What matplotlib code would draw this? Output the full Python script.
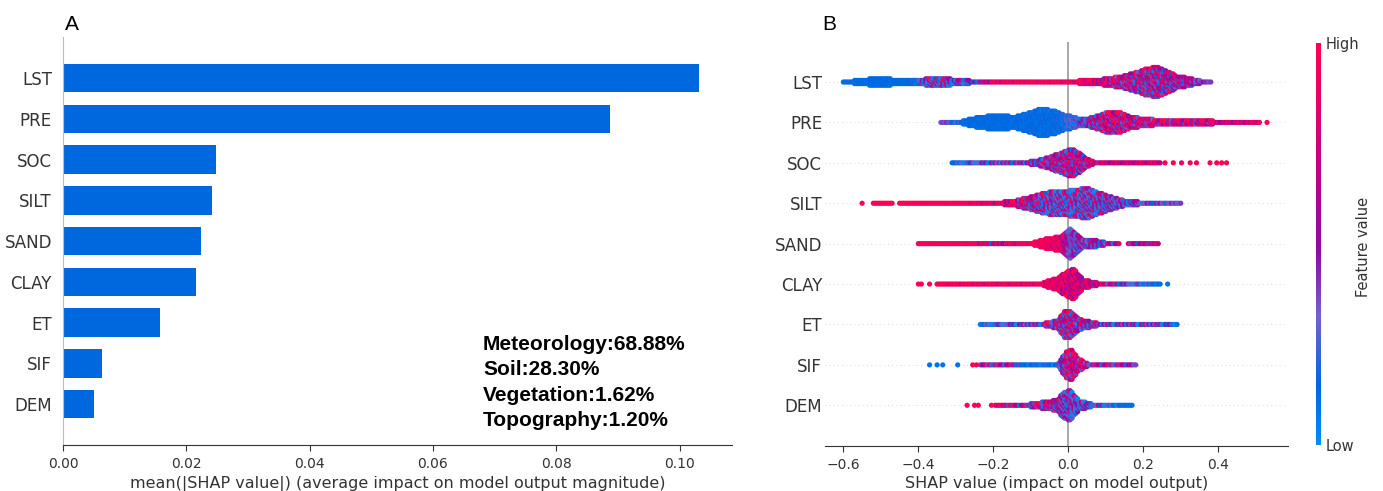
import numpy as np
import matplotlib
matplotlib.use("Agg")
import matplotlib.pyplot as plt
from matplotlib.colors import LinearSegmentedColormap
from matplotlib.cm import ScalarMappable

# ======== data ========
features = ["LST", "PRE", "SOC", "SILT", "SAND", "CLAY", "ET", "SIF", "DEM"]
mean_abs_shap = [0.1032, 0.0887, 0.0248, 0.0241, 0.0224, 0.0215, 0.0157, 0.0064, 0.0051]
group_text = ["Meteorology:68.88%", "Soil:28.30%", "Vegetation:1.62%", "Topography:1.20%"]

# beeswarm envelopes: (shap value, half height of swarm in rows, mean feature value, spread of feature value)
# half height < 0 marks a gap with no points
lst_shape = [(-0.600, 0.00, 0.13, 0.0), (-0.580, 0.09, 0.13, 0.0), (-0.530, 0.14, 0.13, 0.02),
             (-0.480, 0.15, 0.13, 0.02), (-0.430, 0.10, 0.13, 0.02), (-0.400, 0.10, 0.15, 0.1),
             (-0.370, 0.17, 0.35, 0.6), (-0.340, 0.18, 0.35, 0.6), (-0.300, 0.12, 0.25, 0.5),
             (-0.260, 0.10, 0.20, 0.4), (-0.200, 0.09, 0.85, 0.2), (-0.100, 0.09, 0.95, 0.1),
             (0.000, 0.09, 0.92, 0.15), (0.080, 0.12, 0.75, 0.3), (0.140, 0.20, 0.60, 0.4),
             (0.180, 0.30, 0.50, 0.5), (0.210, 0.40, 0.50, 0.5), (0.235, 0.44, 0.50, 0.5),
             (0.260, 0.35, 0.50, 0.45), (0.290, 0.22, 0.50, 0.4), (0.330, 0.15, 0.50, 0.3),
             (0.370, 0.07, 0.40, 0.1), (0.380, 0.00, 0.40, 0.0)]
lst_dots = []

pre_shape = [(-0.340, 0.00, 0.40, 0.1), (-0.300, 0.06, 0.20, 0.2), (-0.280, 0.11, 0.13, 0.02),
             (-0.240, 0.20, 0.13, 0.02), (-0.190, 0.24, 0.13, 0.02), (-0.140, 0.21, 0.13, 0.02),
             (-0.100, 0.32, 0.13, 0.05), (-0.070, 0.42, 0.13, 0.05), (-0.040, 0.36, 0.13, 0.05),
             (-0.010, 0.26, 0.15, 0.1), (0.040, 0.14, 0.30, 0.3), (0.080, 0.24, 0.55, 0.5),
             (0.110, 0.34, 0.65, 0.5), (0.140, 0.32, 0.65, 0.5), (0.170, 0.20, 0.60, 0.45),
             (0.250, 0.12, 0.65, 0.4), (0.390, 0.10, 0.70, 0.35), (0.480, 0.07, 0.80, 0.2),
             (0.510, 0.00, 0.90, 0.1)]
pre_dots = [(0.530, 1.0)]

soc_shape = [(-0.310, 0.00, 0.12, 0.0), (-0.280, 0.00, 0.20, 0.3), (-0.150, 0.03, 0.40, 0.5),
             (-0.070, 0.15, 0.45, 0.45), (-0.030, 0.28, 0.55, 0.45), (0.000, 0.38, 0.55, 0.45),
             (0.015, 0.40, 0.55, 0.45), (0.050, 0.18, 0.60, 0.4), (0.080, 0.05, 0.70, 0.3),
             (0.245, 0.00, 0.80, 0.2)]
soc_dots = [(0.258, 1.0), (0.280, 1.0), (0.302, 0.9), (0.325, 1.0), (0.342, 1.0),
            (0.378, 1.0), (0.396, 1.0), (0.409, 1.0), (0.422, 1.0)]

silt_shape = [(-0.520, 0.00, 1.0, 0.0), (-0.465, 0.00, 1.0, 0.0), (-0.462, -1, 1.0, 0.0),
              (-0.452, -1, 1.0, 0.0), (-0.450, 0.00, 1.0, 0.0), (-0.280, 0.05, 0.97, 0.05),
              (-0.200, 0.07, 0.85, 0.3), (-0.140, 0.13, 0.75, 0.4), (-0.080, 0.28, 0.40, 0.6),
              (-0.040, 0.36, 0.30, 0.6), (0.005, 0.38, 0.30, 0.6), (0.050, 0.44, 0.35, 0.55),
              (0.080, 0.34, 0.35, 0.45), (0.110, 0.24, 0.35, 0.4), (0.150, 0.14, 0.30, 0.35),
              (0.210, 0.08, 0.30, 0.3), (0.300, 0.00, 0.35, 0.1)]
silt_dots = [(-0.550, 1.0)]

sand_shape = [(-0.400, 0.00, 0.95, 0.05), (-0.250, 0.05, 0.95, 0.05), (-0.200, 0.05, 0.60, 0.6),
              (-0.160, 0.06, 0.85, 0.3), (-0.100, 0.08, 0.95, 0.05), (-0.060, 0.18, 0.92, 0.1),
              (-0.015, 0.26, 0.80, 0.3), (0.005, 0.44, 0.35, 0.1), (0.025, 0.30, 0.38, 0.2),
              (0.040, 0.18, 0.40, 0.3), (0.080, 0.14, 0.40, 0.4), (0.120, 0.06, 0.50, 0.5),
              (0.140, 0.00, 0.50, 0.5), (0.145, -1, 0.5, 0.5), (0.155, -1, 0.5, 0.5),
              (0.160, 0.00, 0.50, 0.5), (0.240, 0.00, 0.70, 0.3)]
sand_dots = []

clay_shape = [(-0.350, 0.00, 0.95, 0.05), (-0.200, 0.03, 0.90, 0.2), (-0.080, 0.07, 0.90, 0.15),
              (-0.030, 0.21, 0.85, 0.2), (0.000, 0.40, 0.75, 0.3), (0.015, 0.44, 0.75, 0.3),
              (0.040, 0.18, 0.70, 0.3), (0.100, 0.06, 0.70, 0.35), (0.150, 0.04, 0.30, 0.4),
              (0.245, 0.00, 0.12, 0.05)]
clay_dots = [(-0.400, 1.0), (-0.392, 1.0), (-0.370, 1.0), (0.265, 0.1)]

et_shape = [(-0.235, 0.00, 0.15, 0.2), (-0.100, 0.03, 0.35, 0.6), (-0.030, 0.16, 0.45, 0.55),
            (-0.010, 0.38, 0.55, 0.45), (0.005, 0.42, 0.55, 0.45), (0.030, 0.20, 0.45, 0.5),
            (0.100, 0.05, 0.35, 0.6), (0.250, 0.04, 0.35, 0.6), (0.290, 0.00, 0.12, 0.1)]
et_dots = []

sif_shape = [(-0.235, 0.00, 0.50, 0.5), (-0.150, 0.03, 0.55, 0.5), (-0.120, 0.05, 0.13, 0.1),
             (-0.030, 0.06, 0.13, 0.15), (-0.005, 0.40, 0.60, 0.4), (0.010, 0.44, 0.60, 0.4),
             (0.025, 0.24, 0.65, 0.35), (0.060, 0.06, 0.55, 0.5), (0.150, 0.04, 0.55, 0.5),
             (0.180, 0.03, 0.35, 0.05)]
sif_dots = [(-0.370, 0.1), (-0.350, 0.1), (-0.335, 0.1), (-0.295, 0.1), (-0.255, 1.0), (-0.245, 1.0)]

dem_shape = [(-0.195, 0.00, 0.90, 0.1), (-0.150, 0.03, 0.55, 0.5), (-0.030, 0.20, 0.50, 0.5),
             (-0.010, 0.40, 0.35, 0.35), (0.005, 0.44, 0.35, 0.35), (0.030, 0.18, 0.30, 0.35),
             (0.080, 0.05, 0.30, 0.45), (0.120, 0.04, 0.15, 0.2), (0.170, 0.00, 0.12, 0.0)]
dem_dots = [(-0.270, 1.0), (-0.250, 1.0), (-0.240, 1.0), (-0.205, 1.0)]

shapes = [lst_shape, pre_shape, soc_shape, silt_shape, sand_shape, clay_shape, et_shape, sif_shape, dem_shape]
dots = [lst_dots, pre_dots, soc_dots, silt_dots, sand_dots, clay_dots, et_dots, sif_dots, dem_dots]
# ============================================

# shap-like red/blue colormap
red_blue = LinearSegmentedColormap.from_list(
    "red_blue", [(0.0, "#008bfb"), (0.15, "#0066e0"), (0.32, "#7560d0"),
                 (0.48, "#8c0aa5"), (0.72, "#c8007d"), (1.0, "#ff0052")])

W, H = 1383, 491
fig = plt.figure(figsize=(W / 100, H / 100), dpi=100)

ypos = np.arange(len(features))[::-1]
text_col = "#333333"

# ---------- panel A: mean |SHAP| bars ----------
ax1 = fig.add_axes([63 / W, 1 - 445 / H, (732 - 63) / W, (445 - 37.3) / H])
ax1.barh(ypos, mean_abs_shap, height=0.7, color="#0068df")
ax1.set_xlim(0, 0.1085)
ax1.set_ylim(-1, len(features))
ax1.set_yticks(ypos)
ax1.set_yticklabels(features, fontsize=12, color=text_col)
ax1.set_xticks(np.arange(0, 0.101, 0.02))
ax1.set_xticklabels([f"{v:.2f}" for v in np.arange(0, 0.101, 0.02)], fontsize=10, color=text_col)
ax1.tick_params(axis="y", length=0, pad=8)
ax1.tick_params(axis="x", length=4, pad=5, color=text_col)
ax1.spines["top"].set_visible(False)
ax1.spines["right"].set_visible(False)
ax1.spines["left"].set_color("#bbbbbb")
ax1.spines["bottom"].set_color(text_col)
ax1.set_xlabel("mean(|SHAP value|) (average impact on model output magnitude)",
               fontsize=11.5, color=text_col, labelpad=3)

fig.text(483 / W, 1 - 335 / H, "\n".join(group_text), fontsize=15, fontweight="bold",
         family="Liberation Sans", ha="left", va="top", linespacing=1.42)

# ---------- panel B: beeswarm ----------
ax2 = fig.add_axes([825 / W, 1 - 445.7 / H, (1288 - 825) / W, (445.7 - 41.6) / H])
cycle = [-1.0, 0.2, 0.9, -0.3, 0.0, 1.0, -0.8, 0.4, -0.1, 0.7, -0.6, 0.1, 0.5]
dx, dy = 0.005, 0.04
for row, shape, extra in zip(ypos, shapes, dots):
    kx, kh, kc, ks = np.array(shape).T
    xs = np.arange(kx[0], kx[-1] + 1e-9, dx)
    hh = np.interp(xs, kx, kh)
    cm_ = np.interp(xs, kx, kc)
    cs_ = np.interp(xs, kx, ks)
    px, py, pc = [], [], []
    for j, x in enumerate(xs):
        if hh[j] < 0:
            continue
        n = int(max(hh[j] - 0.06, 0) / dy)
        for k in range(-n, n + 1):
            px.append(x)
            py.append(row + k * dy)
            pc.append(np.clip(cm_[j] + cs_[j] * cycle[(j * j + 3 * k + k * k * j) % 13], 0, 1))
    for x, c in extra:
        px.append(x)
        py.append(row)
        pc.append(c)
    ax2.scatter(px, py, c=pc, cmap=red_blue, vmin=0, vmax=1, s=14, linewidths=0, zorder=3)
    ax2.axhline(row, color="#cccccc", lw=0.6, dashes=(1, 4), zorder=-1)

ax2.axvline(0, color="#999999", lw=1.2, zorder=-1)
ax2.set_xlim(-0.649, 0.586)
ax2.set_ylim(-1, len(features))
ax2.set_yticks(ypos)
ax2.set_yticklabels(features, fontsize=12, color=text_col)
ax2.set_xticks([-0.6, -0.4, -0.2, 0.0, 0.2, 0.4])
ax2.tick_params(axis="y", length=0, pad=2)
ax2.tick_params(axis="x", length=4, pad=5, labelsize=10, labelcolor=text_col, color=text_col)
for s in ["top", "right", "left"]:
    ax2.spines[s].set_visible(False)
ax2.spines["bottom"].set_color(text_col)
ax2.set_xlabel("SHAP value (impact on model output)", fontsize=11.5, color=text_col, labelpad=3)

# colorbar
cax = fig.add_axes([1316 / W, 1 - 445 / H, 5 / W, (445 - 43) / H])
cb = fig.colorbar(ScalarMappable(cmap=red_blue), cax=cax, ticks=[0, 1])
cb.set_ticklabels(["Low", "High"])
cb.outline.set_visible(False)
cax.tick_params(length=0, labelsize=10.5, labelcolor=text_col, pad=3)
fig.text(1364 / W, 1 - 247 / H, "Feature value", rotation=90, fontsize=10.5,
         color=text_col, ha="center", va="center")

# panel letters
fig.text(65 / W, 1 - 30 / H, "A", fontsize=15, family="Liberation Sans", va="baseline")
fig.text(822 / W, 1 - 30 / H, "B", fontsize=15, family="Liberation Sans", va="baseline")

fig.savefig("out.png", dpi=100)
